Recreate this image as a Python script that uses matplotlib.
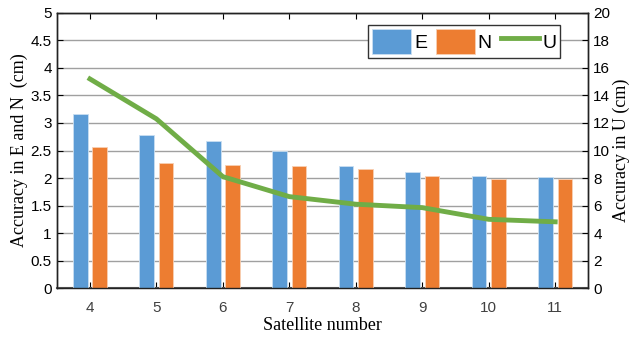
import numpy as np
import matplotlib
matplotlib.use("Agg")
import matplotlib.pyplot as plt

# datos
satelites = ['4', '5', '6', '7', '8', '9', '10', '11']
precision_e = [3.16, 2.78, 2.68, 2.50, 2.21, 2.11, 2.03, 2.01]
precision_n = [2.56, 2.28, 2.23, 2.21, 2.16, 2.03, 1.98, 1.98]
precision_u = [15.2, 12.3, 8.1, 6.65, 6.1, 5.85, 5.0, 4.82]

azul = '#5B9BD5'
naranja = '#ED7D31'
verde = '#70AD47'

plt.rcParams['font.family'] = ['Liberation Sans', 'DejaVu Sans']

fig = plt.figure(figsize=(6.3, 3.39), dpi=100)
ax1 = fig.add_axes([0.090, 0.150, 0.844, 0.812])
ax2 = ax1.twinx()

x = np.arange(len(satelites))
ancho = 0.22
b1 = ax1.bar(x - 0.145, precision_e, ancho, color=azul, edgecolor='#c9dff2',
             linewidth=0.6, label='E', zorder=3)
b2 = ax1.bar(x + 0.145, precision_n, ancho, color=naranja, edgecolor='#f8cfb3',
             linewidth=0.6, label='N', zorder=3)
l1, = ax2.plot(x, precision_u, color=verde, linewidth=3.5, label='U', zorder=4)

ax1.set_xlim(-0.5, len(satelites) - 0.5)
ax1.set_ylim(0, 5)
ax1.set_yticks(np.arange(0, 5.01, 0.5))
ax1.set_yticklabels(['0', '0.5', '1', '1.5', '2', '2.5', '3', '3.5', '4', '4.5', '5'])
ax2.set_ylim(0, 20)
ax2.set_yticks(np.arange(0, 21, 2))
ax1.set_xticks(x)
ax1.set_xticklabels(satelites)
ax1.grid(axis='y', color='#a0a0a0', linewidth=1.0, zorder=0)
ax1.set_axisbelow(True)

ax1.tick_params(axis='x', direction='in', top=True, length=4, pad=9,
                labelsize=11, labelcolor='#404040')
ax1.tick_params(axis='y', direction='in', length=4, labelsize=11)
ax2.tick_params(axis='y', direction='in', length=4, labelsize=11)

for ax in (ax1, ax2):
    for s in ax.spines.values():
        s.set_color('#222222')
        s.set_linewidth(1.0)
ax1.spines['bottom'].set_color('#555555')
ax1.spines['bottom'].set_linewidth(1.5)

ax1.set_xlabel('Satellite number', family='Liberation Serif', fontsize=13, labelpad=2)
ax1.set_ylabel('Accuracy in E and N  (cm)', family='Liberation Serif', fontsize=13, labelpad=2)
ax2.set_ylabel('Accuracy in U (cm)', family='Liberation Serif', fontsize=13, labelpad=2)

leg = ax2.legend([b1, b2, l1], ['E', 'N', 'U'], loc='upper right', ncol=3,
                 bbox_to_anchor=(0.947, 0.956), frameon=True, fancybox=False,
                 fontsize=14, handlelength=2.0, handleheight=1.6,
                 columnspacing=0.45, handletextpad=0.15, borderpad=0.2,
                 borderaxespad=0)
leg.get_frame().set_edgecolor('#333333')
leg.get_frame().set_linewidth(1.0)
leg.get_frame().set_alpha(1)

fig.savefig('out.png', dpi=100)
